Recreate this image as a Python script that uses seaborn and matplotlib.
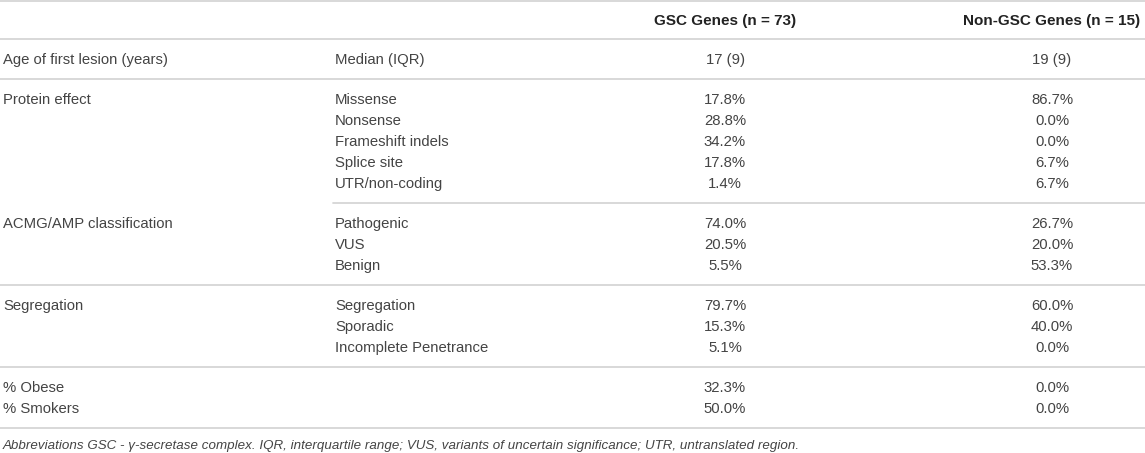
import math
import matplotlib
matplotlib.use("Agg")
import matplotlib.pyplot as plt
import seaborn as sns

# ---- table content ----
col_headers = ["", "", "GSC Genes (n = 73)", "Non-GSC Genes (n = 15)"]
group_items = [
    ["Median (IQR)"],
    ["Missense", "Nonsense", "Frameshift indels", "Splice site", "UTR/non-coding"],
    ["Pathogenic", "VUS", "Benign"],
    ["Segregation", "Sporadic", "Incomplete Penetrance"],
    ["", ""],
]
group_first_labels = [
    ["Age of first lesion (years)"],
    ["Protein effect", "", "", "", ""],
    ["ACMG/AMP classification", "", ""],
    ["Segregation", "", ""],
    ["% Obese", "% Smokers"],
]
gsc_values = [
    ["17 (9)"],
    ["17.8%", "28.8%", "34.2%", "17.8%", "1.4%"],
    ["74.0%", "20.5%", "5.5%"],
    ["79.7%", "15.3%", "5.1%"],
    ["32.3%", "50.0%"],
]
non_gsc_values = [
    ["19 (9)"],
    ["86.7%", "0.0%", "0.0%", "6.7%", "6.7%"],
    ["26.7%", "20.0%", "53.3%"],
    ["60.0%", "40.0%", "0.0%"],
    ["0.0%", "0.0%"],
]
footnote = ("Abbreviations GSC - \u03b3-secretase complex. IQR, interquartile range; "
            "VUS, variants of uncertain significance; UTR, untranslated region.")

# ---- style ----
sns.set_theme(style="white")
plt.rcParams["font.family"] = ["Liberation Sans", "DejaVu Sans"]

W, H = 1145, 453
fig = plt.figure(figsize=(W / 100, H / 100), dpi=100)
ax = fig.add_axes([0, 0, 1, 1])
ax.set_xlim(0, W)
ax.set_ylim(H, 0)
ax.axis("off")

txt_color = "#444444"
hdr_color = "#222222"
line_color = "#d6d6d6"
fs = 10.7

x_col1 = 3
x_col2 = 335
x_col3 = 725
x_col4 = 1052

header_h = 39
row_h = 21
pad = 19
first_base = 25  # baseline offset of first row below group top line

# top line & header
ax.axhline(0.8, color=line_color, lw=1.3)
ax.text(x_col3, 25, col_headers[2], ha="center", va="baseline", fontsize=11,
        fontweight="bold", color=hdr_color)
ax.text(x_col4, 25, col_headers[3], ha="center", va="baseline", fontsize=11,
        fontweight="bold", color=hdr_color)
ax.axhline(header_h, color=line_color, lw=1.3)

y = header_h
for gi in range(len(group_items)):
    items = group_items[gi]
    n = len(items)
    top = y
    for ri in range(n):
        yb = math.floor(top + first_base + ri * row_h + 0.5)
        lab1 = group_first_labels[gi][ri]
        if lab1:
            ax.text(x_col1, yb, lab1, ha="left", va="baseline", fontsize=fs, color=txt_color)
        if items[ri]:
            ax.text(x_col2, yb, items[ri], ha="left", va="baseline", fontsize=fs, color=txt_color)
        ax.text(x_col3, yb, gsc_values[gi][ri], ha="center", va="baseline", fontsize=fs,
                color=txt_color)
        ax.text(x_col4, yb, non_gsc_values[gi][ri], ha="center", va="baseline", fontsize=fs,
                color=txt_color)
    y = top + n * row_h + pad
    if gi == 1:
        ax.plot([x_col2 - 2, W], [y, y], color=line_color, lw=1.3)
    else:
        ax.axhline(y, color=line_color, lw=1.3)

ax.text(x_col1, y + 21, footnote, ha="left", va="baseline", fontsize=9.65,
        style="italic", color=txt_color)

fig.savefig("out.png", dpi=100)
